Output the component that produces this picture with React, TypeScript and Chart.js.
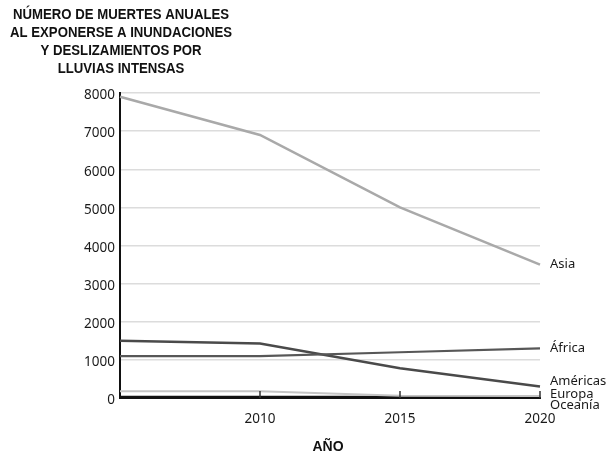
import React, { useEffect, useRef } from "react";
import { Chart, registerables } from "chart.js";

Chart.register(...registerables);

const years = [2005, 2010, 2015, 2020];
const asia = [7900, 6900, 5000, 3500];
const africa = [1100, 1100, 1200, 1300];
const americas = [1500, 1430, 780, 300];
const europa = [180, 180, 60, 50];
const oceania = [30, 30, 30, 30];
const seriesNames = ["Asia", "África", "Américas", "Europa", "Oceanía"];
const xTickValues = [2010, 2015, 2020];
const titleLines = [
  "NÚMERO DE MUERTES ANUALES",
  "AL EXPONERSE A INUNDACIONES",
  "Y DESLIZAMIENTOS POR",
  "LLUVIAS INTENSAS",
];
const xAxisTitle = "AÑO";

const seriesValues = [asia, africa, americas, europa, oceania];
const seriesColors = ["#a9a9a9", "#575757", "#4a4a4a", "#c4c4c4", "#111111"];
const seriesWidths = [2.5, 2.2, 2.5, 2, 2];
const labelOffsets = [0, 0, -5, -2, 8];

const FONT = "'Noto Sans', 'Open Sans', sans-serif";
const BOLD = "'Liberation Sans', Arial, sans-serif";

const overlay = {
  id: "overlay",
  afterDraw(chart: any) {
    const ctx = chart.ctx;
    const area = chart.chartArea;
    const xs = chart.scales.x;
    const ys = chart.scales.y;
    ctx.save();
    // title
    ctx.fillStyle = "#111";
    ctx.font = `bold 14.5px ${BOLD}`;
    ctx.textAlign = "center";
    ctx.textBaseline = "alphabetic";
    const ref = ctx.measureText(titleLines[1]).width;
    const sx = 222 / ref;
    const baselines = [19.3, 37.3, 55.3, 73.3];
    titleLines.forEach((line, i) => {
      ctx.save();
      ctx.translate(121, baselines[i]);
      ctx.scale(sx, 1);
      ctx.fillText(line, 0, 0);
      ctx.restore();
    });
    // x axis title
    ctx.font = `bold 14px ${BOLD}`;
    ctx.fillText(xAxisTitle, (area.left + area.right) / 2 - 2, 450.7);
    // small tick marks on x axis
    ctx.strokeStyle = "#333";
    ctx.lineWidth = 1.5;
    xTickValues.forEach((v) => {
      const px = xs.getPixelForValue(v);
      ctx.beginPath();
      ctx.moveTo(px, area.bottom);
      ctx.lineTo(px, area.bottom - 7);
      ctx.stroke();
    });
    // series labels
    ctx.fillStyle = "#1a1a1a";
    ctx.font = `13px ${FONT}`;
    ctx.textAlign = "left";
    ctx.textBaseline = "middle";
    seriesNames.forEach((name, i) => {
      const vals = seriesValues[i];
      const py = ys.getPixelForValue(vals[vals.length - 1]) + labelOffsets[i];
      ctx.fillText(name, area.right + 10, py);
    });
    ctx.restore();
  },
};

export default function App() {
  const ref = useRef<HTMLCanvasElement | null>(null);
  useEffect(() => {
    if (!ref.current) return;
    const chart = new Chart(ref.current, {
      type: "line",
      data: {
        datasets: seriesNames.map((name, i) => ({
          label: name,
          data: years.map((y, j) => ({ x: y, y: seriesValues[i][j] })),
          borderColor: seriesColors[i],
          backgroundColor: seriesColors[i],
          borderWidth: seriesWidths[i],
          pointRadius: 0,
          tension: 0,
          clip: false as any,
        })),
      },
      options: {
        responsive: false,
        animation: false,
        devicePixelRatio: 1,
        layout: { padding: { top: 93, right: 72, left: 0, bottom: 0 } },
        plugins: {
          legend: { display: false },
          tooltip: { enabled: false },
          title: { display: false },
        },
        scales: {
          x: {
            type: "linear",
            min: 2005,
            max: 2020,
            afterFit: (s: any) => {
              s.height = 60;
            },
            grid: { display: false, drawTicks: false },
            border: { display: true, color: "#111", width: 2 },
            ticks: {
              stepSize: 5,
              padding: 13,
              color: "#1a1a1a",
              font: { family: FONT, size: 13.5 },
              maxRotation: 0,
              callback: (v: any) => (v === 2005 ? "" : String(v)),
            },
          },
          y: {
            min: 0,
            max: 8000,
            afterFit: (s: any) => {
              s.width = 120;
            },
            grid: { color: "#dcdcdc", lineWidth: 1.5, drawTicks: false },
            border: { display: true, color: "#111", width: 2 },
            ticks: {
              stepSize: 1000,
              padding: 5,
              labelOffset: 2.5,
              color: "#1a1a1a",
              font: { family: FONT, size: 13.5 },
              callback: (v: any) => String(v),
            },
          },
        },
      },
      plugins: [overlay],
    });
    return () => chart.destroy();
  }, []);
  return (
    <div style={{ position: "fixed", left: 0, top: 0, width: 612, height: 458, background: "#fff" }}>
      <canvas ref={ref} width={612} height={458} style={{ width: 612, height: 458 }} />
    </div>
  );
}
